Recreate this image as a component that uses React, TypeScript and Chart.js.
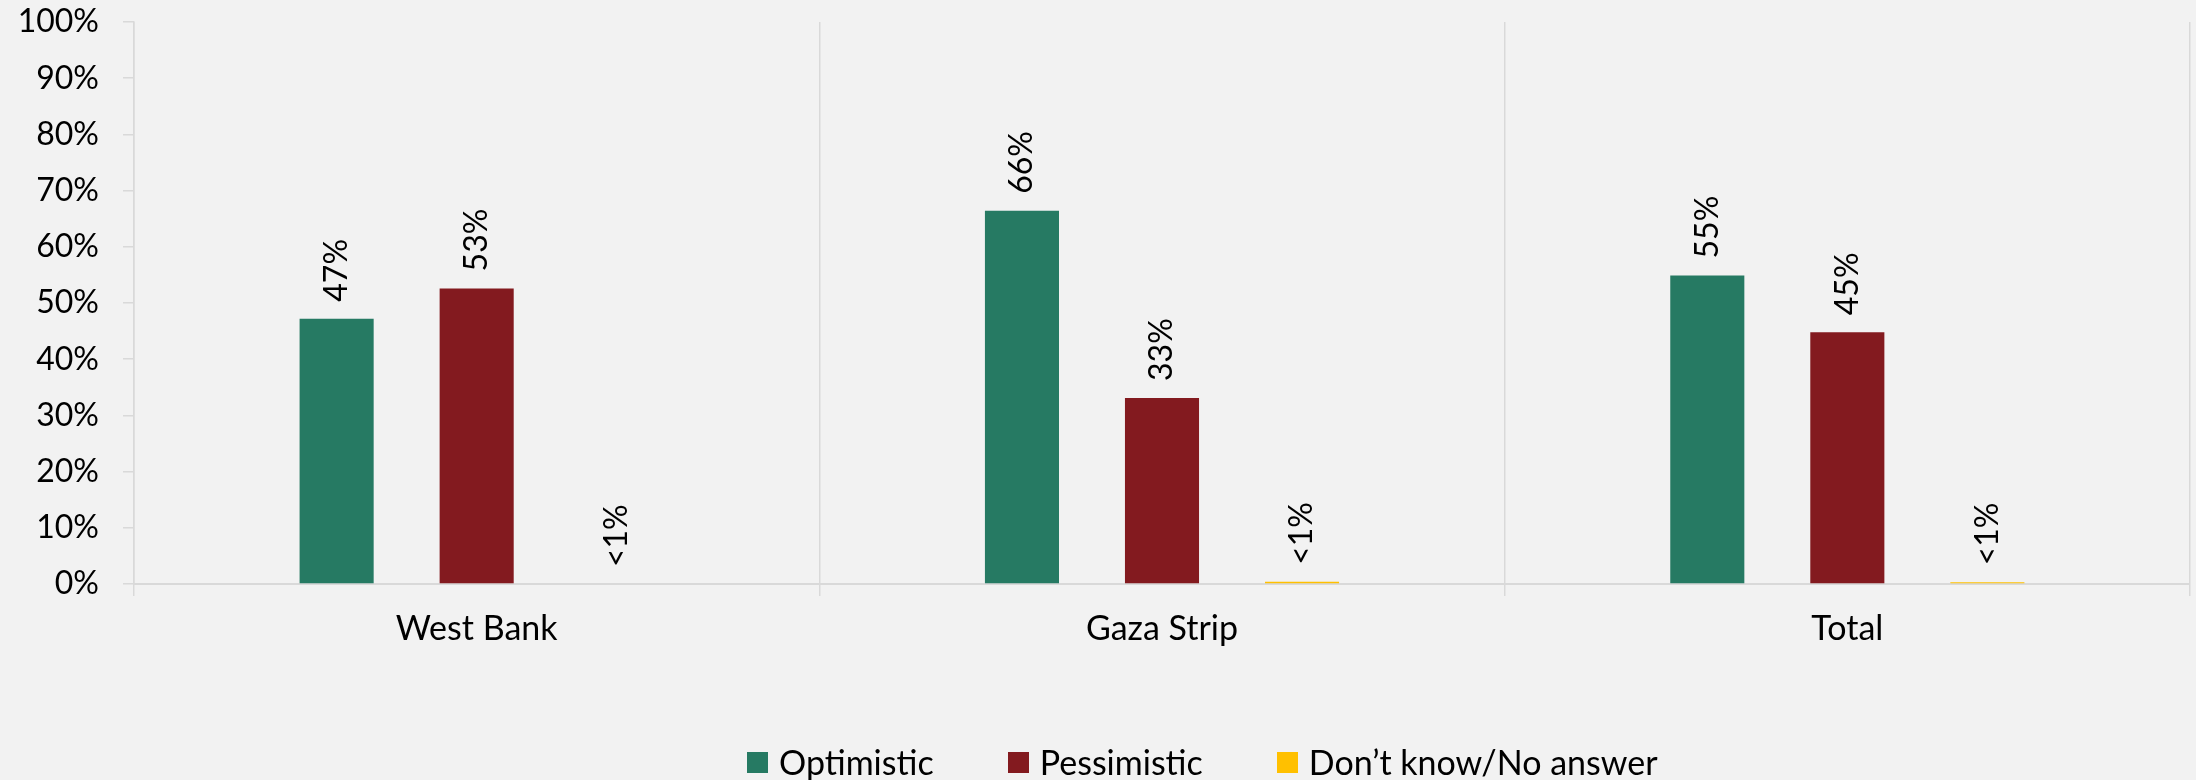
import React, { useEffect, useRef } from "react";
import { Chart, registerables } from "chart.js";

Chart.register(...registerables);

const categories = ["West Bank", "Gaza Strip", "Total"];
const seriesNames = ["Optimistic", "Pessimistic", "Don’t know/No answer"];
const optimistic = [47.2, 66.4, 54.9];
const pessimistic = [52.6, 33.1, 44.8];
const dontKnow = [0, 0.4, 0.3];
const seriesColors = ["#267a63", "#831a1f", "#ffc000"];
const yTickStep = 10;

const FONT = "Lato, 'Open Sans', sans-serif";

const fmt = (v: number) => (v < 1 ? "<1%" : Math.round(v) + "%");

const valueLabels = {
  id: "valueLabels",
  afterDatasetsDraw(chart: any) {
    const ctx = chart.ctx;
    ctx.save();
    ctx.font = `32px ${FONT}`;
    ctx.fillStyle = "#000";
    chart.data.datasets.forEach((ds: any, i: number) => {
      const meta = chart.getDatasetMeta(i);
      meta.data.forEach((el: any, j: number) => {
        const v = ds.data[j] as number;
        ctx.save();
        ctx.translate(el.x, el.y - 17);
        ctx.rotate(-Math.PI / 2);
        ctx.textAlign = "left";
        ctx.textBaseline = "middle";
        ctx.fillText(fmt(v), 0, 0);
        ctx.restore();
      });
    });
    ctx.restore();
  },
};

export default function App() {
  const ref = useRef<HTMLCanvasElement>(null);
  useEffect(() => {
    if (!ref.current) return;
    Chart.defaults.font.family = FONT;
    const data = [optimistic, pessimistic, dontKnow];
    const chart = new Chart(ref.current, {
      type: "bar",
      data: {
        labels: categories,
        datasets: seriesNames.map((name, i) => ({
          label: name,
          data: data[i],
          backgroundColor: seriesColors[i],
          borderWidth: 0,
          categoryPercentage: 0.613,
          barPercentage: 0.529,
        })),
      },
      options: {
        animation: false,
        responsive: false,
        devicePixelRatio: 1,
        layout: { padding: { left: 0, right: 6, top: 22, bottom: 0 } },
        plugins: {
          legend: { display: false },
          tooltip: { enabled: false },
        },
        scales: {
          x: {
            offset: true,
            grid: {
              offset: true,
              color: "#d9d9d9",
              lineWidth: 1.5,
              tickLength: 12,
              drawOnChartArea: true,
            },
            border: { display: true, color: "#d9d9d9", width: 2 },
            ticks: { color: "#000", font: { size: 34, family: FONT }, padding: 13 },
            afterFit: (s: any) => {
              s.height = 780 - 584;
              s.paddingLeft = 0;
              s.paddingRight = 0;
            },
          },
          y: {
            min: 0,
            max: 100,
            ticks: {
              stepSize: yTickStep,
              color: "#000",
              font: { size: 32, family: FONT },
              padding: 24,
              callback: (v: any) => v + "%",
            },
            grid: {
              drawOnChartArea: false,
              color: "#d9d9d9",
              lineWidth: 1.5,
              tickLength: 11,
            },
            border: { display: true, color: "#d9d9d9", width: 1.5 },
            afterFit: (s: any) => {
              s.width = 134;
              s.paddingTop = 0;
              s.paddingBottom = 0;
            },
          },
        },
      },
      plugins: [valueLabels],
    });
    return () => chart.destroy();
  }, []);

  return (
    <div
      style={{
        position: "fixed",
        left: 0,
        top: 0,
        width: 2196,
        height: 780,
        background: "#f2f2f2",
        fontFamily: FONT,
      }}
    >
      <canvas ref={ref} width={2196} height={780} style={{ position: "absolute", left: 0, top: 0 }} />
      <div
        style={{
          position: "absolute",
          left: 747,
          top: 742,
          display: "flex",
          alignItems: "center",
          whiteSpace: "nowrap",
          fontSize: 34,
          lineHeight: "40px",
          color: "#000",
        }}
      >
        {seriesNames.map((name, i) => (
          <div
            key={name}
            style={{ display: "flex", alignItems: "center", marginRight: i < seriesNames.length - 1 ? 74 : 0 }}
          >
            <span
              style={{ display: "inline-block", width: 21, height: 21, background: seriesColors[i], marginRight: 11 }}
            />
            <span>{name}</span>
          </div>
        ))}
      </div>
    </div>
  );
}
